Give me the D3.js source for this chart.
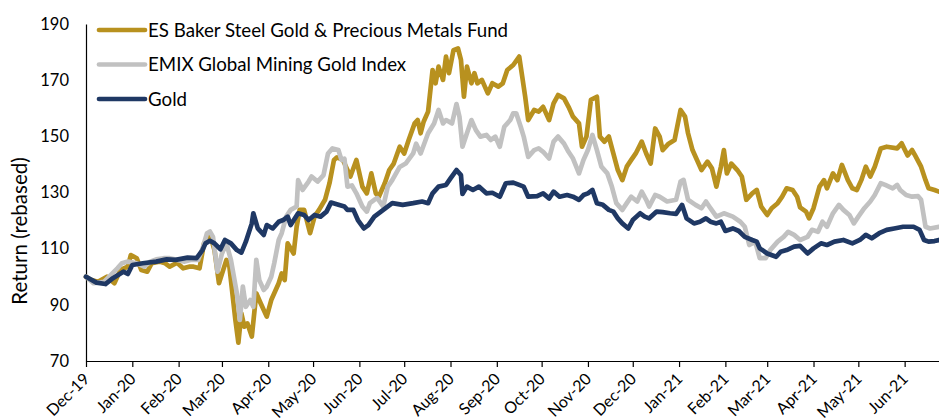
<!DOCTYPE html>
<html>
<head>
<meta charset="utf-8">
<script src="https://cdn.jsdelivr.net/npm/d3@7"></script>
<style>
  body { margin: 0; background: #fff; }
  svg text { font-family: Lato, "Open Sans", sans-serif; fill: #000; }
</style>
</head>
<body>
<div id="viz"></div>
<script>
var width = 939;
var height = 420;

// series names + colours
var seriesNames = ["ES Baker Steel Gold & Precious Metals Fund", "EMIX Global Mining Gold Index", "Gold"];
var seriesColors = ["#B8911F", "#C1C1C1", "#1F3864"];

// month tick labels
var monthLabels = ["Dec-19","Jan-20","Feb-20","Mar-20","Apr-20","May-20","Jun-20","Jul-20","Aug-20","Sep-20","Oct-20","Nov-20","Dec-20","Jan-21","Feb-21","Mar-21","Apr-21","May-21","Jun-21"];
var yTicks = [70, 90, 110, 130, 150, 170, 190];

// ES Baker Steel fund
var esbData = [
["2019-12-01",100],["2019-12-04",98.9],["2019-12-09",98.2],["2019-12-15",100],["2019-12-20",97.7],["2019-12-24",102.4],["2019-12-29",103.6],["2019-12-31",107.7],
["2020-01-04",106.6],["2020-01-07",102.4],["2020-01-11",101.8],["2020-01-14",104.8],["2020-01-19",105.4],["2020-01-23",104.8],["2020-01-26",103.6],["2020-01-31",105],
["2020-02-04",103],["2020-02-08",103.6],["2020-02-11",103.6],["2020-02-15",103],["2020-02-18",111.9],["2020-02-22",114.9],["2020-02-25",109.5],["2020-02-28",97.7],
["2020-03-04",106],["2020-03-06",103.6],["2020-03-10",84.6],["2020-03-12",76.5],["2020-03-14",87],["2020-03-16",82.2],["2020-03-18",83.4],["2020-03-21",78.7],["2020-03-24",94.1],["2020-03-27",90.5],["2020-03-31",85.8],
["2020-04-03",91.7],["2020-04-08",97.7],["2020-04-10",101.2],["2020-04-12",98.8],["2020-04-14",111.9],["2020-04-18",108.3],["2020-04-20",117.8],["2020-04-22",123.8],["2020-04-25",123.8],["2020-04-29",115.5],
["2020-05-02",121.4],["2020-05-05",123.8],["2020-05-09",127.4],["2020-05-12",133.3],["2020-05-15",141.6],["2020-05-17",142.5],["2020-05-21",141.6],["2020-05-23",139.2],["2020-05-26",135.7],["2020-05-30",141.6],
["2020-06-03",132.1],["2020-06-06",129.7],["2020-06-09",136.8],["2020-06-12",129.7],["2020-06-14",128.5],["2020-06-18",133.3],["2020-06-21",138],["2020-06-24",140.3],["2020-06-28",146.3],
["2020-07-01",143.9],["2020-07-04",148.7],["2020-07-08",154.6],["2020-07-10",155.8],["2020-07-12",151.1],["2020-07-14",155.2],["2020-07-17",158.8],["2020-07-20",173.6],["2020-07-22",168.9],["2020-07-24",174.8],["2020-07-27",170.1],["2020-07-29",178.4],["2020-07-31",172.5],
["2020-08-03",180.7],["2020-08-06",181.3],["2020-08-08",177.2],["2020-08-10",164.1],["2020-08-12",174.8],["2020-08-15",168.9],["2020-08-17",172.5],["2020-08-19",168.9],["2020-08-22",170.1],["2020-08-26",165.3],["2020-08-29",168.9],
["2020-09-02",167.7],["2020-09-05",168.9],["2020-09-08",173.6],["2020-09-12",175.4],["2020-09-16",178.4],["2020-09-18",171.3],["2020-09-20",164.1],["2020-09-22",155.8],["2020-09-26",159.4],["2020-09-29",158.8],
["2020-10-02",160.5],["2020-10-06",155.8],["2020-10-09",161.7],["2020-10-12",164.7],["2020-10-16",163.5],["2020-10-19",160.5],["2020-10-22",157],["2020-10-26",154.6],["2020-10-28",146.3],["2020-10-31",149.9],
["2020-11-03",163],["2020-11-07",164.1],["2020-11-09",149.9],["2020-11-12",148.1],["2020-11-15",149.9],["2020-11-18",143.9],["2020-11-21",138],["2020-11-24",134.4],["2020-11-27",139.2],["2020-11-30",141.6],
["2020-12-03",143.9],["2020-12-07",148.1],["2020-12-10",143.9],["2020-12-13",140.3],["2020-12-16",152.8],["2020-12-19",149.9],["2020-12-21",145.1],["2020-12-25",147.4],["2020-12-29",148.7],
["2021-01-02",159.4],["2021-01-05",157],["2021-01-07",151.1],["2021-01-10",145.1],["2021-01-13",141.6],["2021-01-16",138],["2021-01-20",141],["2021-01-23",138.6],["2021-01-26",132.1],["2021-01-29",139.2],["2021-01-31",145.1],
["2021-02-02",136.8],["2021-02-05",140.3],["2021-02-09",138],["2021-02-12",135.7],["2021-02-15",127.4],["2021-02-19",129.7],["2021-02-22",130.9],["2021-02-25",125],
["2021-03-01",122],["2021-03-04",124.4],["2021-03-08",126.2],["2021-03-11",128.5],["2021-03-14",131.5],["2021-03-18",130.9],["2021-03-21",128.5],["2021-03-23",124.7],["2021-03-27",123.2],["2021-03-29",120.8],
["2021-04-01",124.4],["2021-04-05",132.1],["2021-04-08",134.4],["2021-04-10",131.5],["2021-04-14",136.8],["2021-04-17",134.4],["2021-04-20",139.8],["2021-04-24",134.4],["2021-04-27",131.5],["2021-04-30",130.9],
["2021-05-03",134.4],["2021-05-06",139.2],["2021-05-09",135.7],["2021-05-12",139.2],["2021-05-16",145.7],["2021-05-20",146.3],["2021-05-27",145.7],["2021-05-30",147.5],
["2021-06-03",143.2],["2021-06-06",145.1],["2021-06-08",143.2],["2021-06-12",139.2],["2021-06-15",134.4],["2021-06-17",131.5],["2021-06-21",130.9],["2021-06-24",130.3]
];

// EMIX Global Mining Gold Index
var emixData = [
["2019-12-01",100],["2019-12-06",97.7],["2019-12-13",98.2],["2019-12-22",103],["2019-12-25",104.8],["2019-12-29",105.4],
["2020-01-04",104.8],["2020-01-09",103.6],["2020-01-13",105.4],["2020-01-17",106.2],["2020-01-22",106.6],["2020-01-26",106.6],["2020-01-31",106],
["2020-02-05",105.4],["2020-02-09",106],["2020-02-14",106],["2020-02-17",110.1],["2020-02-20",115.5],["2020-02-22",116.1],["2020-02-24",114.2],["2020-02-27",101.8],
["2020-03-01",108.3],["2020-03-04",111.9],["2020-03-07",106],["2020-03-11",94.1],["2020-03-13",84.6],["2020-03-15",96.5],["2020-03-17",89.3],["2020-03-20",91.7],["2020-03-22",89.3],["2020-03-24",106],["2020-03-26",98.8],["2020-03-29",95.3],["2020-03-31",96.5],
["2020-04-03",100],["2020-04-05",104.8],["2020-04-08",113.1],["2020-04-10",115.5],["2020-04-13",121.4],["2020-04-16",123.8],["2020-04-20",125],["2020-04-21",134.4],["2020-04-24",130.9],["2020-04-28",133.9],["2020-04-30",135.7],
["2020-05-04",133.9],["2020-05-08",136.2],["2020-05-11",143.9],["2020-05-14",145.7],["2020-05-18",145.1],["2020-05-20",141.6],["2020-05-22",142],["2020-05-24",132.1],["2020-05-27",132.5],["2020-05-30",129.7],
["2020-06-03",125],["2020-06-06",123.2],["2020-06-08",126.2],["2020-06-11",127.4],["2020-06-13",128],["2020-06-17",125],["2020-06-20",132.1],["2020-06-23",134.4],["2020-06-28",139.1],
["2020-07-02",140.3],["2020-07-07",143.9],["2020-07-09",147.4],["2020-07-12",143.9],["2020-07-17",151.1],["2020-07-21",154.6],["2020-07-24",159.4],["2020-07-27",154.6],["2020-07-29",155.8],
["2020-08-02",154.6],["2020-08-05",161.5],["2020-08-07",157],["2020-08-09",146.3],["2020-08-12",151.1],["2020-08-15",155.8],["2020-08-18",152.2],["2020-08-21",149.9],["2020-08-25",150.5],["2020-08-28",148.7],["2020-08-31",149.9],
["2020-09-03",146.3],["2020-09-06",153.4],["2020-09-10",155.8],["2020-09-12",158.2],["2020-09-14",158.2],["2020-09-17",153.4],["2020-09-19",149.9],["2020-09-22",142.7],["2020-09-26",145.1],["2020-09-29",145.7],
["2020-10-02",144.5],["2020-10-06",142.1],["2020-10-09",148.1],["2020-10-12",149.9],["2020-10-16",147.4],["2020-10-19",144.5],["2020-10-22",142.1],["2020-10-26",136.8],["2020-10-29",141.6],
["2020-11-01",145.1],["2020-11-04",150.5],["2020-11-07",145.1],["2020-11-10",139.2],["2020-11-14",136.8],["2020-11-17",132.1],["2020-11-20",126.2],["2020-11-24",123.8],["2020-11-27",126.2],["2020-11-30",128.5],
["2020-12-04",126.8],["2020-12-07",130.3],["2020-12-10",127.4],["2020-12-12",125],["2020-12-16",129.1],["2020-12-19",128.5],["2020-12-24",126.8],["2020-12-30",127.4],
["2021-01-02",133.9],["2021-01-04",134.5],["2021-01-07",127.4],["2021-01-12",125.6],["2021-01-16",124.4],["2021-01-19",126.8],["2021-01-22",124.4],["2021-01-26",121.4],["2021-01-31",122.6],
["2021-02-06",121.4],["2021-02-11",119.6],["2021-02-14",117.8],["2021-02-17",111.3],["2021-02-21",112.5],["2021-02-24",106.6],["2021-02-28",106.6],
["2021-03-03",109.5],["2021-03-08",112.5],["2021-03-12",114.2],["2021-03-15",116],["2021-03-19",114.9],["2021-03-23",113.1],["2021-03-28",114.2],["2021-03-31",116.7],
["2021-04-04",116],["2021-04-07",119.6],["2021-04-10",117.8],["2021-04-14",122.6],["2021-04-18",125.6],["2021-04-21",123.8],["2021-04-25",122],["2021-04-28",119],
["2021-05-01",121.4],["2021-05-05",124.4],["2021-05-09",126.8],["2021-05-12",129.1],["2021-05-16",133.3],["2021-05-19",132.7],["2021-05-24",131.5],["2021-05-27",132.7],["2021-05-29",130.9],
["2021-06-02",129.1],["2021-06-06",128.5],["2021-06-10",128.7],["2021-06-12",127.4],["2021-06-15",117.8],["2021-06-18",117.2],["2021-06-24",117.8]
];

// Gold price
var goldData = [
["2019-12-01",100],["2019-12-08",97.9],["2019-12-14",97.4],["2019-12-19",99.5],["2019-12-26",101.8],["2019-12-29",101],
["2020-01-01",104.2],["2020-01-08",104.8],["2020-01-17",105.4],["2020-01-24",106.2],["2020-01-30",106],
["2020-02-07",106.8],["2020-02-13",106.6],["2020-02-17",109.5],["2020-02-19",111.9],["2020-02-22",112.8],["2020-02-25",111.9],["2020-02-29",109.8],
["2020-03-03",113.1],["2020-03-07",111.9],["2020-03-11",109.5],["2020-03-14",108.6],["2020-03-17",112.5],["2020-03-21",119],["2020-03-22",122.6],["2020-03-25",117.2],["2020-03-29",114.9],["2020-03-31",118.4],
["2020-04-04",117.2],["2020-04-08",119.6],["2020-04-11",120.2],["2020-04-14",121.4],["2020-04-16",118.4],["2020-04-21",122.6],["2020-04-25",122],["2020-04-28",120.2],
["2020-05-02",122],["2020-05-06",121.4],["2020-05-10",123.2],["2020-05-13",126.4],["2020-05-18",125.6],["2020-05-22",125],["2020-05-24",123.8],["2020-05-28",123.8],["2020-05-31",120.2],
["2020-06-04",117.2],["2020-06-07",118.4],["2020-06-11",121.4],["2020-06-17",123.8],["2020-06-23",126.2],["2020-06-30",125.6],
["2020-07-07",126.2],["2020-07-13",126.8],["2020-07-17",126.2],["2020-07-20",129.7],["2020-07-24",132.1],["2020-07-29",132.7],
["2020-08-01",135],["2020-08-05",138],["2020-08-08",136.2],["2020-08-09",129.5],["2020-08-12",132.1],["2020-08-16",130.9],["2020-08-20",132.1],["2020-08-25",129.7],["2020-08-29",129.9],
["2020-09-03",128.5],["2020-09-07",133.3],["2020-09-12",133.5],["2020-09-16",132.7],["2020-09-19",132.1],["2020-09-22",128.5],["2020-09-28",128.7],
["2020-10-02",129.7],["2020-10-06",127.9],["2020-10-09",130.3],["2020-10-13",128.5],["2020-10-18",129.1],["2020-10-22",128.5],["2020-10-26",127.4],["2020-10-29",129.1],
["2020-11-01",129.7],["2020-11-04",130.9],["2020-11-07",126.2],["2020-11-11",125.6],["2020-11-15",123.8],["2020-11-18",123.2],["2020-11-21",120.8],["2020-11-24",119],["2020-11-28",117.2],
["2020-12-01",120.2],["2020-12-06",122.6],["2020-12-09",121.4],["2020-12-12",120.8],["2020-12-17",123.2],["2020-12-21",123],["2020-12-26",122.6],["2020-12-30",122.4],
["2021-01-03",125.6],["2021-01-06",120.8],["2021-01-11",119],["2021-01-15",119.6],["2021-01-19",120.8],["2021-01-22",119.6],["2021-01-26",119],["2021-01-29",119.6],
["2021-02-01",116.3],["2021-02-06",117.2],["2021-02-10",116.3],["2021-02-14",114.2],["2021-02-19",113.1],["2021-02-22",112.5],["2021-02-24",110.1],
["2021-03-01",108.3],["2021-03-07",107.1],["2021-03-10",108.9],["2021-03-14",109.5],["2021-03-19",110.7],["2021-03-23",111],["2021-03-28",108.3],
["2021-04-01",110.1],["2021-04-06",111.9],["2021-04-10",111.3],["2021-04-15",112.5],["2021-04-21",113.1],["2021-04-27",111.9],
["2021-05-02",113.1],["2021-05-06",114.9],["2021-05-10",113.7],["2021-05-15",115.5],["2021-05-20",116.7],["2021-05-25",117.2],["2021-05-31",117.8],
["2021-06-07",117.8],["2021-06-11",116.7],["2021-06-14",113.1],["2021-06-17",112.5],["2021-06-21",112.7],["2021-06-24",113.1]
];

var parseDate = d3.timeParse("%Y-%m-%d");
function toPoints(arr) {
  return arr.map(function(d) { return { date: parseDate(d[0]), value: d[1] }; });
}
var allSeries = [toPoints(esbData), toPoints(emixData), toPoints(goldData)];

var margin = { left: 86, right: 0, top: 24, bottom: 59 };

var svg = d3.select("#viz")
  .append("svg")
  .attr("width", width)
  .attr("height", height);

var x = d3.scaleTime()
  .domain([parseDate("2019-12-01"), parseDate("2021-06-24")])
  .range([margin.left, width - margin.right]);

var y = d3.scaleLinear()
  .domain([70, 190])
  .range([height - margin.bottom, margin.top]);

// y axis (no tick marks, just line + labels)
var yAxis = svg.append("g")
  .attr("transform", "translate(" + margin.left + ",0)")
  .call(d3.axisLeft(y).tickValues(yTicks).tickSize(0).tickPadding(17));
yAxis.select(".domain").attr("stroke", "#000").attr("stroke-width", 1.2);
yAxis.selectAll("text")
  .style("font-size", "16.5px")
  .style("font-family", "Lato, 'Open Sans', sans-serif");

// x axis with month ticks
var monthTicks = d3.timeMonth.range(parseDate("2019-12-01"), parseDate("2021-06-02"));
var xAxis = svg.append("g")
  .attr("transform", "translate(0," + (height - margin.bottom) + ")")
  .call(d3.axisBottom(x).tickValues(monthTicks).tickSize(6).tickSizeOuter(0)
    .tickFormat(function(d, i) { return monthLabels[i]; }));
xAxis.select(".domain").attr("stroke", "#000").attr("stroke-width", 1.2);
xAxis.selectAll(".tick line").attr("stroke", "#000").attr("stroke-width", 1.2);
xAxis.selectAll("text")
  .style("font-size", "16px")
  .style("font-family", "Lato, 'Open Sans', sans-serif")
  .attr("text-anchor", "end")
  .attr("x", 0)
  .attr("y", 0)
  .attr("dy", "0.35em")
  .attr("transform", "translate(0,15) rotate(-45)");

// y axis title
svg.append("text")
  .attr("transform", "translate(27," + 231 + ") rotate(-90)")
  .attr("text-anchor", "middle")
  .style("font-size", "20.5px")
  .text("Return (rebased)");

// lines
var line = d3.line()
  .x(function(d) { return x(d.date); })
  .y(function(d) { return y(d.value); });

svg.append("g")
  .selectAll("path")
  .data(allSeries)
  .enter().append("path")
  .attr("d", line)
  .attr("fill", "none")
  .attr("stroke", function(d, i) { return seriesColors[i]; })
  .attr("stroke-width", 4.7)
  .attr("stroke-linejoin", "round")
  .attr("stroke-linecap", "round");

// legend
var legend = svg.append("g");
var legendRows = legend.selectAll("g")
  .data(seriesNames)
  .enter().append("g")
  .attr("transform", function(d, i) { return "translate(99," + (30 + i * 34.5) + ")"; });
legendRows.append("line")
  .attr("x1", 0).attr("x2", 46)
  .attr("stroke", function(d, i) { return seriesColors[i]; })
  .attr("stroke-width", 4.7)
  .attr("stroke-linecap", "round");
legendRows.append("text")
  .attr("x", 49)
  .attr("dy", "0.35em")
  .style("font-size", "18.7px")
  .text(function(d) { return d; });
</script>
</body>
</html>
